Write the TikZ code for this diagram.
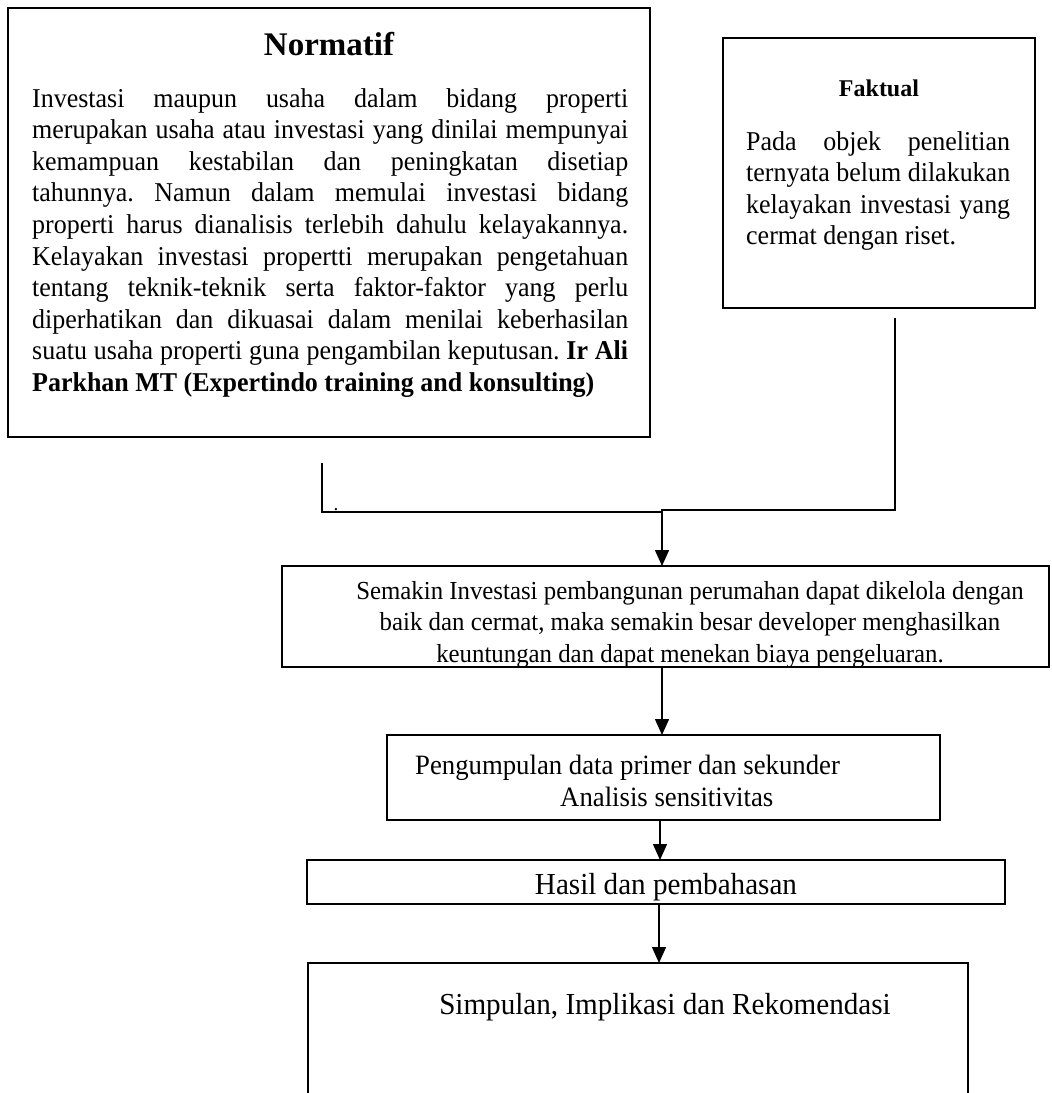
\documentclass[tikz,border=0pt]{standalone}
\usepackage{fontspec}
\setmainfont[FakeStretch=0.955]{Liberation Serif}
\newfontfamily\headfont{Liberation Serif}
\usetikzlibrary{arrows.meta}
\begin{document}
\begin{tikzpicture}[x=1pt,y=-1pt,
  boxline/.style={line width=2.6pt},
  conn/.style={line width=1.5pt},
  arr/.style={conn,-{Triangle[length=16pt,width=14pt]}},
  bodytext/.style={inner sep=0pt,font=\fontsize{26}{31.6}\selectfont\frenchspacing},
  bigtext/.style={inner sep=0pt,font=\fontsize{30.5}{34}\selectfont},
  midtext/.style={inner sep=0pt,font=\fontsize{28}{32}\selectfont},
  parabody/.style={inner sep=0pt,font=\fontsize{27.2}{31.6}\selectfont\frenchspacing,anchor=north west,align=justify},
  headtext/.style={inner sep=0pt,anchor=base},
]
\useasboundingbox (0,0) rectangle (1052,1093);
% boxes
\draw[boxline] (8,8) rectangle (650,437);
\draw[boxline] (723,38) rectangle (1035,308);
\draw[boxline] (282,566) rectangle (1049,667);
\draw[boxline] (387,735) rectangle (940,820);
\draw[boxline] (307,860) rectangle (1005,904);
\draw[boxline] (308,963) rectangle (968,1100);
% Normatif
\node[headtext,font=\headfont\bfseries\fontsize{33}{36}\selectfont] (nh) at (329,55) {Normatif};
\node[parabody,text width=596pt] (nb) at (32,88) {%
Investasi maupun usaha dalam bidang properti\linebreak
merupakan usaha atau investasi yang dinilai mempunyai\linebreak
kemampuan kestabilan dan peningkatan disetiap\linebreak
tahunnya. Namun dalam memulai investasi bidang\linebreak
properti harus dianalisis terlebih dahulu kelayakannya.\linebreak
Kelayakan investasi propertti merupakan pengetahuan\linebreak
tentang teknik-teknik serta faktor-faktor yang perlu\linebreak
diperhatikan dan dikuasai dalam menilai keberhasilan\linebreak
suatu usaha properti guna pengambilan keputusan. \textbf{Ir Ali}\linebreak
\textbf{Parkhan MT (Expertindo training and konsulting)}\par};
% Faktual
\node[headtext,font=\headfont\bfseries\fontsize{24}{28}\selectfont] (fh) at (879,96) {Faktual};
\node[parabody,text width=264pt] (fb) at (746,131) {%
Pada objek penelitian\linebreak
ternyata belum dilakukan\linebreak
kelayakan investasi yang\linebreak
cermat dengan riset.\par};
% box 3
\node[bodytext,anchor=north,align=center] (b3) at (690,581) {%
Semakin Investasi pembangunan perumahan dapat dikelola dengan\\
baik dan cermat, maka semakin besar developer menghasilkan\\
keuntungan dan dapat menekan biaya pengeluaran.};
% box 4
\node[midtext,anchor=base west] (b4a) at (415,774) {Pengumpulan data primer dan sekunder};
\node[midtext,anchor=base west] (b4b) at (560,806) {Analisis sensitivitas};
% box 5, 6
\node[bigtext,anchor=base] (b5) at (666,894) {Hasil dan pembahasan};
\node[bigtext,anchor=base] (b6) at (665,1014) {Simpulan, Implikasi dan Rekomendasi};
% connectors
\coordinate (l1) at (322,463);
\coordinate (l2) at (322,512);
\coordinate (j) at (662,512);
\coordinate (r2) at (895,510);
\coordinate (r1) at (895,318);
\coordinate (b3t) at (662,566);
\draw[conn] (l1) -- (l2) -- (j);
\draw[conn] (r1) -- (r2) -- (r2 -| j) -- (j);
\draw[arr] (j) -- (b3t);
\node[inner sep=0pt,font=\fontsize{20}{20}\selectfont,anchor=base] (dot) at (336,510) {.};
\coordinate (b3b) at (662,667);
\coordinate (b4t) at (662,735);
\draw[arr] (b3b) -- (b4t);
\coordinate (b4bt) at (660,820);
\coordinate (b5t) at (660,860);
\draw[arr] (b4bt) -- (b5t);
\coordinate (b5b) at (659,904);
\coordinate (b6t) at (659,963);
\draw[arr] (b5b) -- (b6t);
\end{tikzpicture}
\end{document}
